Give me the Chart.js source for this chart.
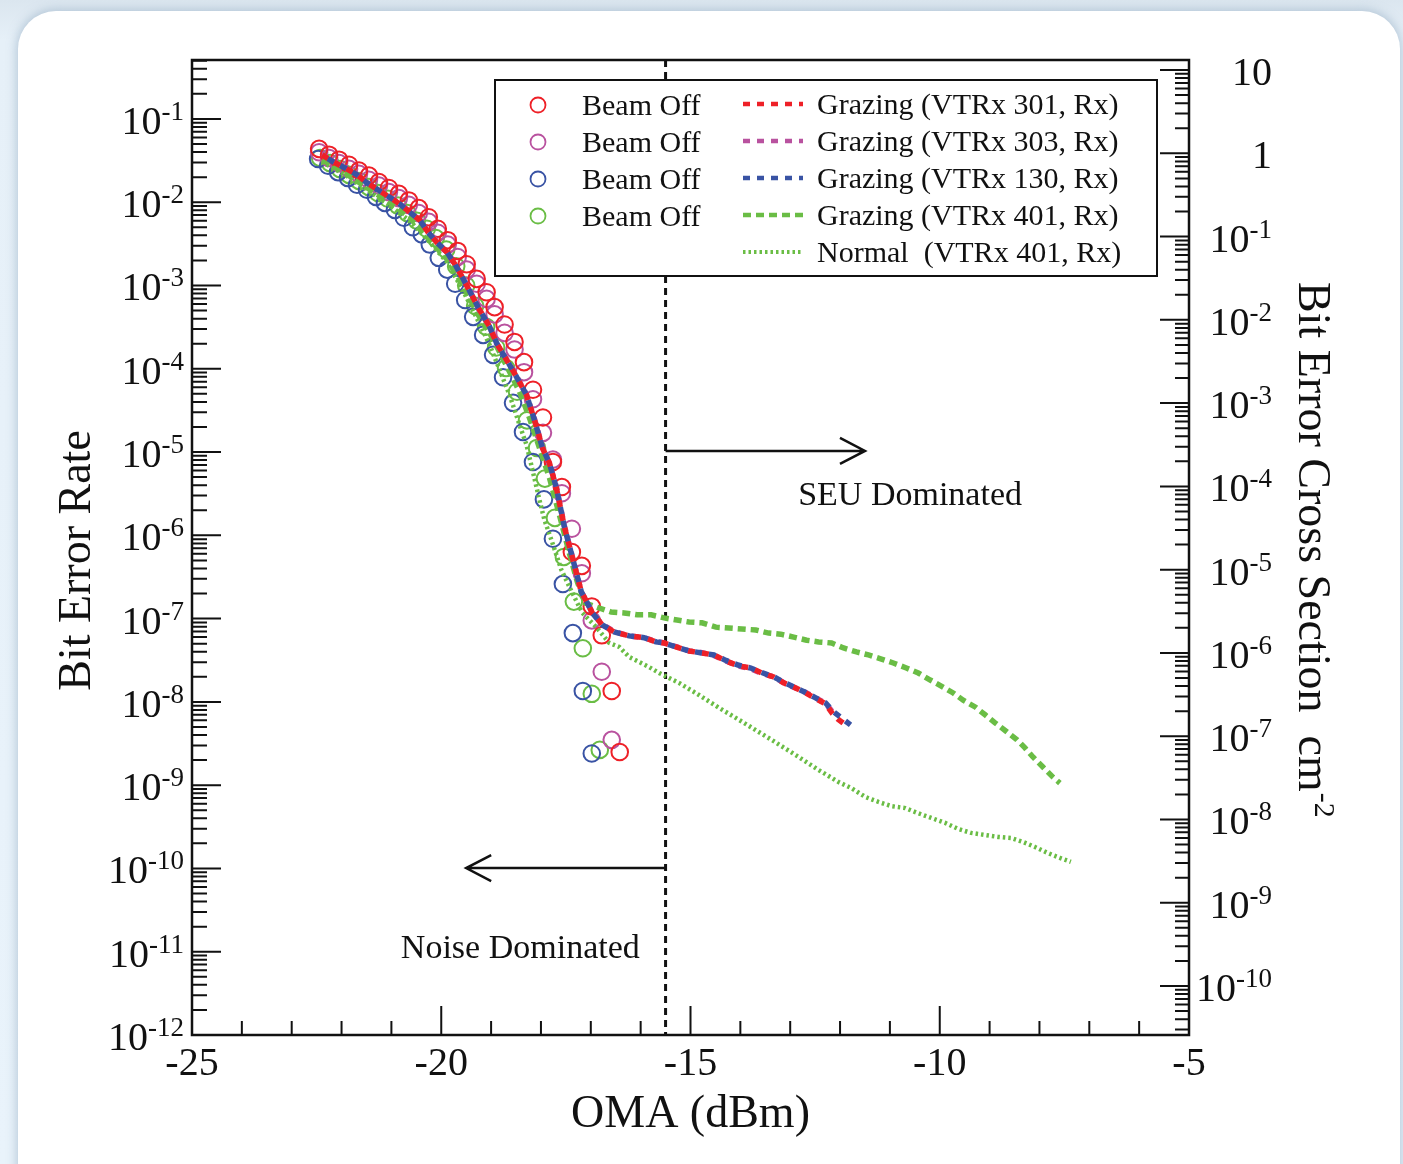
<!DOCTYPE html>
<html>
<head>
<meta charset="utf-8">
<script src="https://cdn.jsdelivr.net/npm/chart.js@4.4.1/dist/chart.umd.min.js"></script>
<style>
  html, body { margin: 0; padding: 0; }
  body {
    width: 1403px; height: 1164px; overflow: hidden; position: relative;
    background: linear-gradient(180deg, #dbe6ef 0px, #e6f0f8 40px, #e9f3fb 100%);
  }
  .card {
    position: absolute; left: 18px; top: 11px; width: 1382px; height: 1220px;
    background: #fff; border-radius: 38px;
    box-shadow: 0 0 10px 2px rgba(140, 165, 190, 0.5);
  }
  canvas { position: absolute; left: 0; top: 0; }
</style>
</head>
<body>
<div class="card"></div>
<canvas id="chart" width="1403" height="1164"></canvas>
<script>
// --- DATA (OMA in dBm, bit error rate) ---
const beamOffRedX = [-22.45, -22.25, -22.05, -21.85, -21.65, -21.45, -21.25, -21.05, -20.85, -20.65, -20.45, -20.25, -20.07, -19.87, -19.67, -19.49, -19.29, -19.09, -18.93, -18.73, -18.53, -18.34, -18.16, -17.96, -17.76, -17.58, -17.38, -17.18, -16.98, -16.78, -16.58, -16.42];
const beamOffRed = [4.37e-2, 3.72e-2, 3.24e-2, 2.82e-2, 2.40e-2, 2.09e-2, 1.74e-2, 1.48e-2, 1.26e-2, 1.05e-2, 8.5e-3, 6.6e-3, 4.8e-3, 3.5e-3, 2.6e-3, 1.8e-3, 1.2e-3, 8.3e-4, 5.5e-4, 3.4e-4, 2.1e-4, 1.2e-4, 5.6e-5, 2.6e-5, 7.6e-6, 3.8e-6, 6.3e-7, 4.3e-7, 1.4e-7, 6.3e-8, 1.35e-8, 2.5e-9];

const beamOffMagX = [-22.45, -22.25, -22.05, -21.85, -21.65, -21.45, -21.25, -21.05, -20.85, -20.65, -20.45, -20.25, -20.07, -19.87, -19.67, -19.49, -19.29, -19.09, -18.93, -18.73, -18.53, -18.34, -18.16, -17.96, -17.76, -17.58, -17.38, -17.18, -16.98, -16.78, -16.58];
const beamOffMag = [3.98e-2, 3.39e-2, 2.95e-2, 2.51e-2, 2.19e-2, 1.86e-2, 1.58e-2, 1.32e-2, 1.12e-2, 9.3e-3, 7.4e-3, 5.8e-3, 4.3e-3, 3.1e-3, 2.2e-3, 1.55e-3, 1.05e-3, 6.9e-4, 4.5e-4, 2.7e-4, 1.7e-4, 9.1e-5, 4.3e-5, 1.7e-5, 8.1e-6, 3.2e-6, 1.2e-6, 3.5e-7, 9.5e-8, 2.3e-8, 3.5e-9];

const beamOffBlueX = [-22.47, -22.27, -22.07, -21.87, -21.69, -21.49, -21.31, -21.13, -20.93, -20.75, -20.57, -20.39, -20.23, -20.05, -19.88, -19.72, -19.52, -19.36, -19.16, -18.96, -18.76, -18.56, -18.36, -18.16, -17.94, -17.76, -17.56, -17.36, -17.16, -16.98];
const beamOffBlue = [3.3e-2, 2.74e-2, 2.3e-2, 1.95e-2, 1.62e-2, 1.41e-2, 1.16e-2, 9.8e-3, 8.1e-3, 6.5e-3, 5.0e-3, 4.1e-3, 3.1e-3, 2.15e-3, 1.55e-3, 1.05e-3, 6.7e-4, 4.2e-4, 2.55e-4, 1.47e-4, 7.9e-5, 3.9e-5, 1.74e-5, 7.6e-6, 2.7e-6, 9.1e-7, 2.6e-7, 6.7e-8, 1.35e-8, 2.4e-9];

const beamOffGreenX = [-22.43, -22.23, -22.03, -21.85, -21.65, -21.45, -21.27, -21.07, -20.87, -20.68, -20.49, -20.29, -20.11, -19.90, -19.70, -19.50, -19.32, -19.10, -18.90, -18.70, -18.48, -18.28, -18.08, -17.92, -17.72, -17.54, -17.34, -17.16, -16.98, -16.82];
const beamOffGreen = [3.4e-2, 2.95e-2, 2.5e-2, 2.13e-2, 1.8e-2, 1.52e-2, 1.29e-2, 1.1e-2, 9.1e-3, 7.4e-3, 6.0e-3, 4.8e-3, 3.7e-3, 2.7e-3, 1.7e-3, 1.0e-3, 5.7e-4, 3.2e-4, 1.8e-4, 1.02e-4, 5.3e-5, 2.4e-5, 1.12e-5, 4.8e-6, 1.62e-6, 5.5e-7, 1.6e-7, 4.4e-8, 1.25e-8, 2.65e-9];

const graz301X = [-22.39, -22.17, -21.93, -21.69, -21.49, -21.27, -21.05, -20.83, -20.61, -20.43, -20.27, -20.09, -19.89, -19.73, -19.57, -19.39, -19.23, -19.03, -18.89, -18.69, -18.49, -18.29, -18.13, -17.97, -17.83, -17.69, -17.53, -17.33, -17.19, -17.07, -16.97, -16.77, -16.53, -16.23, -15.93, -15.69, -15.53, -15.29, -15.03, -14.77, -14.53, -14.29, -14.03, -13.79, -13.57, -13.33, -13.13, -12.93, -12.69, -12.47, -12.29, -12.15, -12.03, -11.89];
const graz301 = [3.70e-2, 3.05e-2, 2.58e-2, 2.13e-2, 1.71e-2, 1.41e-2, 1.16e-2, 9.5e-3, 7.4e-3, 6.1e-3, 4.4e-3, 3.3e-3, 2.53e-3, 1.82e-3, 1.23e-3, 7.7e-4, 5.1e-4, 3.2e-4, 2.04e-4, 1.28e-4, 8.0e-5, 4.85e-5, 2.43e-5, 1.12e-5, 7.4e-6, 3.7e-6, 1.26e-6, 4.4e-7, 2.09e-7, 1.54e-7, 1.17e-7, 8.4e-8, 6.9e-8, 6.2e-8, 5.9e-8, 5.25e-8, 5.1e-8, 4.57e-8, 4.09e-8, 3.87e-8, 3.66e-8, 3.1e-8, 2.7e-8, 2.55e-8, 2.22e-8, 1.99e-8, 1.69e-8, 1.51e-8, 1.28e-8, 1.08e-8, 9.5e-9, 7.2e-9, 6.1e-9, 5.3e-9];

const graz303X = [-22.39, -22.17, -21.93, -21.69, -21.49, -21.27, -21.05, -20.83, -20.61, -20.43, -20.27, -20.09, -19.89, -19.73, -19.57, -19.39, -19.23, -19.03, -18.89, -18.69, -18.49, -18.29, -18.13, -17.97, -17.83, -17.69, -17.53, -17.33, -17.19, -17.07, -16.97, -16.77, -16.53, -16.23, -15.93, -15.69, -15.53, -15.29, -15.03, -14.77, -14.53, -14.29, -14.03, -13.79, -13.57, -13.33, -13.13, -12.93, -12.69, -12.47, -12.29, -12.09];
const graz303 = [3.72e-2, 3.08e-2, 2.6e-2, 2.15e-2, 1.73e-2, 1.42e-2, 1.17e-2, 9.6e-3, 7.5e-3, 6.0e-3, 4.5e-3, 3.4e-3, 2.5e-3, 1.8e-3, 1.25e-3, 7.8e-4, 5.0e-4, 3.2e-4, 2.0e-4, 1.3e-4, 8.2e-5, 4.9e-5, 2.5e-5, 1.15e-5, 7.3e-6, 3.8e-6, 1.3e-6, 4.5e-7, 2.1e-7, 1.55e-7, 1.18e-7, 8.5e-8, 7.0e-8, 6.2e-8, 5.9e-8, 5.3e-8, 5.1e-8, 4.6e-8, 4.1e-8, 3.9e-8, 3.6e-8, 3.1e-8, 2.7e-8, 2.5e-8, 2.2e-8, 2.0e-8, 1.7e-8, 1.5e-8, 1.3e-8, 1.1e-8, 9.6e-9, 6.8e-9];

const graz130X = [-22.39, -22.17, -21.93, -21.69, -21.49, -21.27, -21.05, -20.83, -20.61, -20.43, -20.27, -20.09, -19.89, -19.73, -19.57, -19.39, -19.23, -19.03, -18.89, -18.69, -18.49, -18.29, -18.13, -17.97, -17.83, -17.69, -17.53, -17.33, -17.19, -17.07, -16.97, -16.77, -16.53, -16.23, -15.93, -15.69, -15.53, -15.29, -15.03, -14.77, -14.53, -14.29, -14.03, -13.79, -13.57, -13.33, -13.13, -12.93, -12.69, -12.47, -12.29, -12.13, -11.97, -11.79];
const graz130 = [3.70e-2, 3.05e-2, 2.58e-2, 2.13e-2, 1.71e-2, 1.41e-2, 1.16e-2, 9.5e-3, 7.4e-3, 6.1e-3, 4.4e-3, 3.3e-3, 2.53e-3, 1.82e-3, 1.23e-3, 7.7e-4, 5.1e-4, 3.2e-4, 2.04e-4, 1.28e-4, 8.0e-5, 4.85e-5, 2.43e-5, 1.12e-5, 7.4e-6, 3.7e-6, 1.26e-6, 4.4e-7, 2.09e-7, 1.54e-7, 1.17e-7, 8.4e-8, 6.9e-8, 6.2e-8, 5.9e-8, 5.25e-8, 5.1e-8, 4.57e-8, 4.09e-8, 3.87e-8, 3.66e-8, 3.15e-8, 2.75e-8, 2.55e-8, 2.25e-8, 2.0e-8, 1.72e-8, 1.51e-8, 1.3e-8, 1.1e-8, 9.7e-9, 7.6e-9, 6.4e-9, 5.3e-9];

const graz401X = [-22.39, -21.93, -21.49, -21.05, -20.61, -20.27, -19.89, -19.57, -19.27, -19.03, -18.83, -18.63, -18.43, -18.23, -18.03, -17.83, -17.63, -17.43, -17.27, -17.11, -16.83, -16.59, -16.33, -16.07, -15.79, -15.53, -15.27, -15.03, -14.77, -14.49, -14.23, -13.97, -13.69, -13.43, -13.19, -12.93, -12.67, -12.43, -12.17, -11.93, -11.67, -11.43, -11.17, -10.93, -10.67, -10.43, -10.19, -9.97, -9.73, -9.53, -9.29, -9.09, -8.89, -8.65, -8.45, -8.29, -8.13, -7.93, -7.73, -7.59];
const graz401 = [3.22e-2, 2.25e-2, 1.49e-2, 1.01e-2, 6.3e-3, 3.72e-3, 2.08e-3, 1.02e-3, 4.56e-4, 2.69e-4, 1.59e-4, 9.2e-5, 5.3e-5, 2.57e-5, 1.12e-5, 4.9e-6, 1.76e-6, 6.1e-7, 2.75e-7, 1.54e-7, 1.34e-7, 1.2e-7, 1.17e-7, 1.11e-7, 1.11e-7, 1.02e-7, 9.6e-8, 9.1e-8, 8.9e-8, 7.9e-8, 7.7e-8, 7.5e-8, 7.3e-8, 6.7e-8, 6.5e-8, 6.0e-8, 5.5e-8, 5.25e-8, 5.1e-8, 4.44e-8, 3.98e-8, 3.66e-8, 3.27e-8, 2.93e-8, 2.55e-8, 2.22e-8, 1.83e-8, 1.55e-8, 1.28e-8, 1.05e-8, 8.7e-9, 7.0e-9, 5.6e-9, 4.35e-9, 3.5e-9, 2.8e-9, 2.18e-9, 1.65e-9, 1.25e-9, 1.06e-9];

const normal401X = [-22.39, -21.93, -21.49, -21.05, -20.61, -20.27, -19.89, -19.57, -19.27, -19.03, -18.83, -18.63, -18.43, -18.29, -18.17, -18.03, -17.93, -17.79, -17.59, -17.37, -17.17, -16.89, -16.63, -16.43, -16.23, -16.03, -15.83, -15.63, -15.23, -14.83, -14.43, -14.03, -13.63, -13.37, -12.83, -12.43, -12.03, -11.77, -11.49, -11.23, -10.97, -10.69, -10.43, -10.17, -9.89, -9.63, -9.37, -9.09, -8.83, -8.57, -8.33, -8.09, -7.83, -7.59, -7.37];
const normal401 = [3.05e-2, 2.13e-2, 1.41e-2, 9.3e-3, 5.8e-3, 3.52e-3, 1.92e-3, 8.85e-4, 3.86e-4, 1.93e-4, 9.7e-5, 4.85e-5, 2.12e-5, 1.22e-5, 6.1e-6, 2.66e-6, 1.53e-6, 8.8e-7, 3.84e-7, 2.03e-7, 1.17e-7, 7.9e-8, 5.1e-8, 4.57e-8, 3.46e-8, 3.01e-8, 2.62e-8, 2.22e-8, 1.69e-8, 1.21e-8, 8.5e-9, 6.1e-9, 4.35e-9, 3.49e-9, 2.18e-9, 1.52e-9, 1.09e-9, 9.2e-10, 7.2e-10, 6.3e-10, 5.6e-10, 5.3e-10, 4.6e-10, 4.04e-10, 3.52e-10, 2.98e-10, 2.67e-10, 2.52e-10, 2.39e-10, 2.32e-10, 2.08e-10, 1.81e-10, 1.53e-10, 1.34e-10, 1.2e-10];

const beamLabels = ['Beam Off', 'Beam Off', 'Beam Off', 'Beam Off'];
const lineLabels = ['Grazing (VTRx 301, Rx)', 'Grazing (VTRx 303, Rx)', 'Grazing (VTRx 130, Rx)', 'Grazing (VTRx 401, Rx)', 'Normal  (VTRx 401, Rx)'];

// annotations (data units)
const DIVIDER_X = -15.5;
const SEU_ARROW = { from: -15.5, to: -11.5, ber: 1.03e-5 };
const NOISE_ARROW = { from: -15.5, to: -19.5, ber: 1.01e-10 };
const SEU_TEXT = { x: -12.84, ber: 2.3e-6, text: 'SEU Dominated' };
const NOISE_TEXT = { x: -20.81, ber: 8.5e-12, text: 'Noise Dominated' };

// --- STYLE ---
const SERIF = '"Liberation Serif", "Times New Roman", serif';
const RED = '#ee2027', MAG = '#b9529f', BLUE = '#3953a4', GREEN = '#6abd45';
const pts = (xs, ys) => xs.map((x, i) => ({ x: x, y: ys[i] }));

function circles(label, xs, ys, color, order) {
  return {
    label: label, data: pts(xs, ys), showLine: false, order: order,
    pointStyle: 'circle', pointRadius: 8.3, pointHoverRadius: 8.3,
    borderColor: color, backgroundColor: 'rgba(0,0,0,0)', borderWidth: 2
  };
}
function curve(label, xs, ys, color, dash, offset, width, order) {
  return {
    label: label, data: pts(xs, ys), showLine: true, order: order,
    pointRadius: 0, borderColor: color, backgroundColor: color,
    borderWidth: width, borderDash: dash, borderDashOffset: offset,
    borderCapStyle: 'butt', tension: 0
  };
}

const beamSets = [
  circles(beamLabels[0], beamOffRedX, beamOffRed, RED, 5),
  circles(beamLabels[1], beamOffMagX, beamOffMag, MAG, 6),
  circles(beamLabels[2], beamOffBlueX, beamOffBlue, BLUE, 7),
  circles(beamLabels[3], beamOffGreenX, beamOffGreen, GREEN, 8)
];
const lineSets = [
  curve(lineLabels[0], graz301X, graz301, RED, [7, 7], 0, 5.5, 1),
  curve(lineLabels[1], graz303X, graz303, MAG, [7, 7], 3, 5.5, 2),
  curve(lineLabels[2], graz130X, graz130, BLUE, [7, 7], 7, 5.5, 0),
  curve(lineLabels[3], graz401X, graz401, GREEN, [8, 5], 0, 5.5, 3),
  curve(lineLabels[4], normal401X, normal401, GREEN, [2.5, 3], 0, 4.5, 4)
];

// --- HELPERS ---
function logTicks(min, max) {
  const out = [];
  for (let e = Math.floor(Math.log10(min)); e <= Math.ceil(Math.log10(max)); e++) {
    for (let k = 1; k <= 9; k++) {
      const v = k * Math.pow(10, e);
      if (v >= min * 0.999 && v <= max * 1.001) out.push({ v: v, major: k === 1, e: e });
    }
  }
  return out;
}

function drawPower(ctx, exp, xr, y) {
  ctx.textAlign = 'left';
  ctx.textBaseline = 'alphabetic';
  if (exp === 0 || exp === 1) {
    const s = exp === 0 ? '1' : '10';
    ctx.font = '40px ' + SERIF;
    ctx.fillText(s, xr - ctx.measureText(s).width, y + 15);
    return;
  }
  const sup = String(exp);
  ctx.font = '27px ' + SERIF;
  const ws = ctx.measureText(sup).width;
  ctx.fillText(sup, xr - ws, y + 1);
  ctx.font = '40px ' + SERIF;
  const wb = ctx.measureText('10').width;
  ctx.fillText('10', xr - ws - wb, y + 15);
}

function arrow(ctx, x1, x2, y) {
  const dir = Math.sign(x2 - x1);
  ctx.beginPath();
  ctx.moveTo(x1, y); ctx.lineTo(x2, y);
  ctx.moveTo(x2 - dir * 25, y - 13); ctx.lineTo(x2, y); ctx.lineTo(x2 - dir * 25, y + 13);
  ctx.stroke();
}

// --- PLUGIN: frame, inward ticks, labels, annotations, legend ---
const rootStyle = {
  id: 'rootStyle',
  beforeDatasetsDraw(chart) {
    const { ctx, chartArea: a, scales: { x } } = chart;
    const px = x.getPixelForValue(DIVIDER_X);
    ctx.save();
    ctx.strokeStyle = '#111';
    ctx.lineWidth = 3;
    ctx.setLineDash([7, 5]);
    ctx.beginPath();
    ctx.moveTo(px, a.top); ctx.lineTo(px, a.bottom);
    ctx.stroke();
    ctx.restore();
  },
  afterDatasetsDraw(chart) {
    const { ctx, chartArea: a, scales: { x, y, y2 } } = chart;
    ctx.save();
    ctx.fillStyle = '#111';
    ctx.strokeStyle = '#111';

    // frame
    ctx.lineWidth = 2.5;
    ctx.strokeRect(a.left, a.top, a.right - a.left, a.bottom - a.top);

    // ticks
    ctx.lineWidth = 2;
    ctx.beginPath();
    logTicks(y.min, y.max).forEach(t => {
      const py = y.getPixelForValue(t.v);
      ctx.moveTo(a.left, py); ctx.lineTo(a.left + (t.major ? 29 : 15), py);
    });
    logTicks(y2.min, y2.max).forEach(t => {
      const py = y2.getPixelForValue(t.v);
      ctx.moveTo(a.right, py); ctx.lineTo(a.right - (t.major ? 29 : 14), py);
    });
    x.ticks.forEach(t => {
      const px = x.getPixelForValue(t.value);
      const major = Math.round(t.value) % 5 === 0;
      ctx.moveTo(px, a.bottom); ctx.lineTo(px, a.bottom - (major ? 29 : 14));
    });
    ctx.stroke();

    // tick labels
    logTicks(y.min, y.max).filter(t => t.major).forEach(t => drawPower(ctx, t.e, a.left - 8, y.getPixelForValue(t.v)));
    logTicks(y2.min, y2.max).filter(t => t.major).forEach(t => drawPower(ctx, t.e, a.right + 83, y2.getPixelForValue(t.v)));
    ctx.font = '40px ' + SERIF;
    ctx.textAlign = 'center';
    ctx.textBaseline = 'alphabetic';
    x.ticks.forEach(t => {
      if (Math.round(t.value) % 5 === 0) ctx.fillText(String(Math.round(t.value)), x.getPixelForValue(t.value), a.bottom + 40);
    });

    // axis titles
    ctx.font = '46px ' + SERIF;
    ctx.fillText('OMA (dBm)', (a.left + a.right) / 2, a.bottom + 92);
    ctx.save();
    ctx.translate(90, (a.top + a.bottom) / 2 + 13);
    ctx.rotate(-Math.PI / 2);
    ctx.fillText('Bit Error Rate', 0, 0);
    ctx.restore();
    ctx.save();
    ctx.translate(a.right + 110, a.top + 222);
    ctx.rotate(Math.PI / 2);
    ctx.textAlign = 'left';
    const main = 'Bit Error Cross Section  cm';
    ctx.fillText(main, 0, 0);
    const w = ctx.measureText(main).width;
    ctx.font = '30px ' + SERIF;
    ctx.fillText('-2', w + 1, -16);
    ctx.restore();

    // arrows and region texts
    ctx.lineWidth = 2.5;
    arrow(ctx, x.getPixelForValue(SEU_ARROW.from), x.getPixelForValue(SEU_ARROW.to), y.getPixelForValue(SEU_ARROW.ber));
    arrow(ctx, x.getPixelForValue(NOISE_ARROW.from), x.getPixelForValue(NOISE_ARROW.to), y.getPixelForValue(NOISE_ARROW.ber));
    ctx.font = '34px ' + SERIF;
    ctx.textAlign = 'left';
    ctx.fillText(SEU_TEXT.text, x.getPixelForValue(SEU_TEXT.x), y.getPixelForValue(SEU_TEXT.ber));
    ctx.fillText(NOISE_TEXT.text, x.getPixelForValue(NOISE_TEXT.x), y.getPixelForValue(NOISE_TEXT.ber));

    // legend
    const bx = a.left + 303, by = a.top + 20, bw = 662, bh = 196;
    ctx.fillStyle = '#fff';
    ctx.fillRect(bx, by, bw, bh);
    ctx.lineWidth = 2;
    ctx.strokeRect(bx, by, bw, bh);
    ctx.font = '30px ' + SERIF;
    ctx.textBaseline = 'middle';
    beamSets.forEach((d, i) => {
      const ry = by + 25 + i * 37;
      ctx.strokeStyle = d.borderColor;
      ctx.lineWidth = 1.8;
      ctx.beginPath();
      ctx.arc(bx + 43, ry, 7.5, 0, Math.PI * 2);
      ctx.stroke();
      ctx.fillStyle = '#111';
      ctx.fillText(d.label, bx + 87, ry + 2);
    });
    lineSets.forEach((d, i) => {
      const ry = by + 24 + i * 37;
      ctx.strokeStyle = d.borderColor;
      ctx.lineWidth = i === 4 ? 4 : 4.5;
      ctx.setLineDash(d.borderDash);
      ctx.beginPath();
      ctx.moveTo(bx + 248, ry); ctx.lineTo(bx + 308, ry);
      ctx.stroke();
      ctx.setLineDash([]);
      ctx.fillStyle = '#111';
      ctx.fillText(d.label, bx + 322, ry + 2);
    });
    ctx.restore();
  }
};

const hiddenAxis = (extra) => Object.assign({
  grid: { display: false, drawTicks: false },
  border: { display: false },
  ticks: { display: false }
}, extra);

new Chart(document.getElementById('chart'), {
  type: 'scatter',
  data: { datasets: [...lineSets, ...beamSets] },
  options: {
    responsive: false,
    animation: false,
    layout: { padding: { left: 192, top: 60, right: 214, bottom: 129 } },
    plugins: { legend: { display: false }, tooltip: { enabled: false } },
    scales: {
      x: hiddenAxis({
        type: 'linear', min: -25, max: -5,
        ticks: { display: false, stepSize: 1, maxTicksLimit: 40 },
        afterFit: s => { s.height = 0; }
      }),
      y: hiddenAxis({
        type: 'logarithmic', position: 'left', min: 1e-12, max: 0.51,
        afterFit: s => { s.width = 0; }
      }),
      y2: hiddenAxis({
        type: 'logarithmic', position: 'right', min: 2.58e-11, max: 13.2,
        afterFit: s => { s.width = 0; }
      })
    }
  },
  plugins: [rootStyle]
});
</script>
</body>
</html>
